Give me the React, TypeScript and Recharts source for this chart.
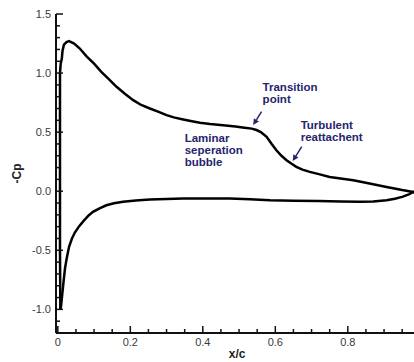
import React from "react";
import {
  ComposedChart,
  Line,
  XAxis,
  YAxis,
  ReferenceLine,
  ReferenceDot,
} from "recharts";

// upper surface (suction side), leading edge -> trailing edge
const UPPER_X = [
  0.007, 0.006, 0.006, 0.006, 0.006, 0.008, 0.011, 0.013, 0.017, 0.024, 0.031,
  0.045, 0.06, 0.08, 0.1, 0.12, 0.14, 0.162, 0.185, 0.208, 0.23, 0.254, 0.28,
  0.3, 0.32, 0.346, 0.37, 0.392, 0.42, 0.456, 0.49, 0.515, 0.535, 0.548, 0.56,
  0.576, 0.59, 0.603, 0.617, 0.631, 0.645, 0.658, 0.675, 0.695, 0.72, 0.75,
  0.785, 0.815, 0.86, 0.907, 0.95, 0.98, 1.0,
];
const UPPER_CP = [
  -1.0, -0.5, 0.0, 0.5, 1.0, 1.08, 1.12, 1.19, 1.24, 1.262, 1.27, 1.25, 1.21,
  1.14, 1.08, 1.01, 0.95, 0.884, 0.825, 0.771, 0.73, 0.7, 0.67, 0.644, 0.625,
  0.607, 0.592, 0.579, 0.568, 0.559, 0.548, 0.538, 0.53, 0.518, 0.5, 0.46, 0.4,
  0.347, 0.3, 0.263, 0.232, 0.206, 0.183, 0.164, 0.145, 0.121, 0.105, 0.093,
  0.065, 0.036, 0.01, -0.006, -0.02,
];

// lower surface (pressure side)
const LOWER_X = [
  0.007, 0.009, 0.012, 0.016, 0.02, 0.025, 0.031, 0.039, 0.047, 0.058, 0.07,
  0.085, 0.097, 0.115, 0.134, 0.155, 0.18, 0.215, 0.254, 0.3, 0.346, 0.4, 0.474,
  0.53, 0.585, 0.65, 0.72, 0.78, 0.833, 0.87, 0.907, 0.93, 0.95, 0.97, 0.98, 1.0,
];
const LOWER_CP = [
  -1.0, -0.97, -0.88, -0.76, -0.65, -0.56, -0.47, -0.4, -0.35, -0.3, -0.255,
  -0.205, -0.175, -0.145, -0.119, -0.102, -0.09, -0.078, -0.07, -0.065, -0.062,
  -0.062, -0.062, -0.068, -0.076, -0.08, -0.082, -0.086, -0.09, -0.086, -0.076,
  -0.064, -0.048, -0.025, -0.006, -0.02,
];

const X_MAJOR = [0, 0.2, 0.4, 0.6, 0.8, 1.0];
const X_LABELS = ["0", "0.2", "0.4", "0.6", "0.8", ""];
const X_MINOR = [
  0.05, 0.1, 0.15, 0.25, 0.3, 0.35, 0.45, 0.5, 0.55, 0.65, 0.7, 0.75, 0.85,
  0.9, 0.95,
];
const Y_MAJOR = [-1.0, -0.5, 0.0, 0.5, 1.0, 1.5];
const Y_LABELS = ["-1.0", "-0.5", "0.0", "0.5", "1.0", "1.5"];
const Y_MINOR = [
  -1.2, -1.1, -0.9, -0.8, -0.7, -0.6, -0.4, -0.3, -0.2, -0.1, 0.1, 0.2, 0.3,
  0.4, 0.6, 0.7, 0.8, 0.9, 1.1, 1.2, 1.3, 1.4,
];

// annotations: text lines, anchor (x/c, -Cp) of first baseline
const NOTES = [
  { lines: ["Transition", "point"], x: 0.565, y: 0.848 },
  { lines: ["Turbulent", "reattachent"], x: 0.67, y: 0.525 },
  { lines: ["Laminar", "seperation", "bubble"], x: 0.35, y: 0.42 },
];
const ARROWS = [
  { from: [0.562, 0.673], to: [0.539, 0.561] },
  { from: [0.673, 0.377], to: [0.648, 0.256] },
];

const upper = UPPER_X.map((x, i) => ({ x, cp: UPPER_CP[i] }));
const lower = LOWER_X.map((x, i) => ({ x, cp: LOWER_CP[i] }));

const FONT = "'Liberation Sans', Arial, sans-serif";
const AXIS = "#111";
const TICK_TEXT = "#3a3a3a";
const NOTE_COLOR = "#25256e";

const near = (v: number, list: number[]) => list.findIndex((m) => Math.abs(m - v) < 1e-6);

function BottomTick({ x, y, payload }: any) {
  const idx = near(payload.value, X_MAJOR);
  const major = idx >= 0;
  return (
    <g>
      <line x1={x} x2={x} y1={y} y2={y - (major ? 7 : 4)} stroke={AXIS} strokeWidth={1.5} />
      {major && X_LABELS[idx] && (
        <text x={x} y={y + 13} textAnchor="middle" fontSize={11} fontFamily={FONT} fill={TICK_TEXT}>
          {X_LABELS[idx]}
        </text>
      )}
    </g>
  );
}

function TopTick({ x, y, payload }: any) {
  const major = near(payload.value, X_MAJOR) >= 0;
  return <line x1={x} x2={x} y1={y} y2={y + (major ? 7 : 4)} stroke={AXIS} strokeWidth={1.5} />;
}

function LeftTick({ x, y, payload }: any) {
  const idx = near(payload.value, Y_MAJOR);
  const major = idx >= 0;
  return (
    <g>
      <line x1={x} x2={x + (major ? 7 : 4)} y1={y} y2={y} stroke={AXIS} strokeWidth={1.5} />
      {major && (
        <text x={x - 5} y={y + 4} textAnchor="end" fontSize={11} fontFamily={FONT} fill={TICK_TEXT}>
          {Y_LABELS[idx]}
        </text>
      )}
    </g>
  );
}

function Arrow({ x1, y1, x2, y2 }: any) {
  const a = Math.atan2(y2 - y1, x2 - x1);
  const L = 6;
  const W = 3;
  const bx = x2 - L * Math.cos(a);
  const by = y2 - L * Math.sin(a);
  const px = -Math.sin(a) * W;
  const py = Math.cos(a) * W;
  return (
    <g>
      <line x1={x1} y1={y1} x2={bx} y2={by} stroke={NOTE_COLOR} strokeWidth={1.5} />
      <polygon points={`${x2},${y2} ${bx + px},${by + py} ${bx - px},${by - py}`} fill={NOTE_COLOR} />
    </g>
  );
}

export default function App() {
  return (
    <div style={{ position: "fixed", left: 0, top: 0, width: 414, height: 362, overflow: "hidden", background: "#fff" }}>
      <ComposedChart width={431} height={362} margin={{ top: 14, right: 10.7, bottom: 0, left: 0 }}>
        <XAxis
          xAxisId="b"
          dataKey="x"
          type="number"
          domain={[-0.005, 1.0]}
          ticks={[...X_MAJOR, ...X_MINOR].sort((a, b) => a - b)}
          interval={0}
          tickSize={0}
          tickMargin={0}
          tick={<BottomTick />}
          axisLine={{ stroke: AXIS, strokeWidth: 2 }}
          height={29}
          allowDataOverflow
          label={(p: any) => {
            const vb = p.viewBox;
            return (
              <text x={vb.x + vb.width / 2 - 1} y={vb.y + 25} textAnchor="middle" fontSize={12} fontWeight="bold" fontFamily={FONT} fill="#222">
                x/c
              </text>
            );
          }}
        />
        <XAxis
          xAxisId="t"
          orientation="top"
          dataKey="x"
          type="number"
          domain={[-0.005, 1.0]}
          ticks={[...X_MAJOR, ...X_MINOR].sort((a, b) => a - b)}
          interval={0}
          tickSize={0}
          tickMargin={0}
          tick={<TopTick />}
          axisLine={{ stroke: AXIS, strokeWidth: 2 }}
          height={0}
          allowDataOverflow
        />
        <YAxis
          yAxisId="l"
          type="number"
          domain={[-1.2, 1.5]}
          ticks={[...Y_MAJOR, ...Y_MINOR].sort((a, b) => a - b)}
          interval={0}
          tickSize={0}
          tickMargin={0}
          tick={<LeftTick />}
          axisLine={{ stroke: AXIS, strokeWidth: 2 }}
          width={56}
          allowDataOverflow
          label={(p: any) => {
            const vb = p.viewBox;
            const cx = vb.x + 21;
            const cy = vb.y + vb.height / 2;
            return (
              <text x={cx} y={cy} transform={`rotate(-90 ${cx} ${cy})`} textAnchor="middle" fontSize={12} fontWeight="bold" fontFamily={FONT} fill="#222">
                -Cp
              </text>
            );
          }}
        />
        <Line
          xAxisId="b"
          yAxisId="l"
          data={upper}
          dataKey="cp"
          type="linear"
          stroke="#000"
          strokeWidth={2.5}
          dot={false}
          isAnimationActive={false}
        />
        <Line
          xAxisId="b"
          yAxisId="l"
          data={lower}
          dataKey="cp"
          type="linear"
          stroke="#000"
          strokeWidth={2.5}
          dot={false}
          isAnimationActive={false}
        />
        {ARROWS.map((a, i) => (
          <ReferenceLine
            key={i}
            xAxisId="b"
            yAxisId="l"
            segment={[
              { x: a.from[0], y: a.from[1] },
              { x: a.to[0], y: a.to[1] },
            ]}
            shape={(p: any) => <Arrow {...p} />}
            ifOverflow="visible"
          />
        ))}
        {NOTES.map((n, i) => (
          <ReferenceDot
            key={i}
            xAxisId="b"
            yAxisId="l"
            x={n.x}
            y={n.y}
            ifOverflow="visible"
            shape={(p: any) => (
              <text x={p.cx} y={p.cy} fontSize={11.5} fontWeight="bold" fontFamily={FONT} fill={NOTE_COLOR}>
                {n.lines.map((t, k) => (
                  <tspan key={k} x={p.cx} dy={k === 0 ? 0 : 12}>
                    {t}
                  </tspan>
                ))}
              </text>
            )}
          />
        ))}
      </ComposedChart>
    </div>
  );
}
